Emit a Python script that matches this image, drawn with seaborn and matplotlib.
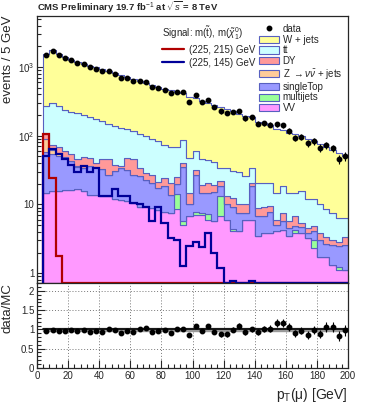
import numpy as np
import pandas as pd
import matplotlib
matplotlib.use("Agg")
import matplotlib.pyplot as plt
import seaborn as sns
from matplotlib.patches import Patch
from matplotlib.lines import Line2D
from matplotlib.ticker import LogLocator, MultipleLocator, NullFormatter, FuncFormatter

# ------------------------------
# binning: 4 GeV bins from 4 to 200 GeV
# ------------------------------
bin_edges = np.arange(4, 201, 4)
centers = 0.5 * (bin_edges[:-1] + bin_edges[1:])

# ------------------------------
# values (events per bin)
# ------------------------------
data_counts = [1487, 1715, 1482, 1356, 1249, 1135, 1086, 983, 937, 866,
               865, 792, 682, 692, 630, 620, 602, 510, 491, 465,
               415, 429, 427, 310, 386, 306, 326, 264, 225, 212,
               222, 229, 178, 184, 150, 152, 145, 148, 142, 118,
               94, 96, 77, 83, 67, 73, 66, 46, 50]

w_jets = [1270, 1450, 1280, 1170, 1050, 975, 915, 860, 810, 765,
          715, 675, 630, 590, 560, 515, 480, 455, 430, 405,
          385, 360, 335, 315, 295, 275, 255, 240, 225, 210,
          195, 180, 167, 150, 140, 130, 122, 112, 103, 96,
          90, 84, 78, 72, 66, 60, 55, 49, 45]

ttbar = [164, 221, 201, 175, 168, 165, 150, 138, 137, 121,
         104, 101, 94, 78, 71, 71, 70, 61, 62, 48,
         49, 44, 48, 33, 28, 26, 24, 22, 12, 21,
         18, 19, 16, 13.5, 11.5, 11.2, 11.1, 8.5, 10.9, 8.8,
         7.7, 10.2, 7.4, 7.2, 6.2, 5.1, 4.5, 3.4, 2.9]

dy = [14, 12.4, 12.4, 10.2, 10.2, 10.2, 15.1, 12.0, 4.8, 12.8,
      18.0, 7.0, 2.8, 16.3, 19.0, 8.2, 5.9, 6.8, 3.5, 5.9,
      6.6, 5.1, 4.3, 4.8, 4.4, 4.7, 5.6, 4.4, 3.5, 3.2,
      3.1, 2.7, 2.5, 2.0, 2.1, 2.4, 1.5, 0.9, 1.8, 1.1,
      2.0, 0.65, 0.7, 0.8, 0.85, 0.7, 0.5, 0.4, 0.8]

z_nunu = [33.5, 6.7, 6.0, 1.5, 0.8, 0.5, 0, 0, 0, 0,
          0, 0, 0, 0, 0, 0, 0, 0, 0, 0,
          0, 0, 0, 0, 0, 0, 0, 0, 0, 0,
          0, 0, 0, 0, 0, 0, 0, 0, 0, 0,
          0, 0, 0, 0, 0, 0, 0, 0, 0]

single_top = [42.5, 39.5, 34.5, 31.9, 26.3, 18.7, 18.4, 22.4, 22.0, 19.2,
              14.0, 18.2, 22.3, 20.5, 16.7, 16.4, 13.3, 11.4, 9.0, 10.5,
              6.3, 5.9, 29.7, 3.2, 19.5, 7.2, 7.5, 9.4, 5.2, 4.0,
              4.9, 3.4, 1.5, 12.4, 3.3, 2.9, 4.0, 1.0, 1.4, 1.1,
              0.6, 0.75, 0.7, 1.0, 1.3, 1.0, 1.25, 1.25, 1.5]

multijets = [0, 0, 0, 0, 0, 0, 0, 0, 0, 0,
             0, 0, 0, 0, 0, 0, 0.3, 0, 0, 0,
             0, 5.6, 0.65, 0, 0.6, 0.5, 1.3, 0, 6.4, 0,
             0.3, 0, 0, 0, 0, 0, 0, 0, 0, 0,
             0.4, 0, 0, 0.75, 0, 0, 0, 0.14, 0]

vv = [14.8, 15.5, 15.5, 16.0, 16.4, 16.8, 15.5, 13.5, 13.5, 13.2,
      13.2, 12.0, 11.6, 11.1, 10.5, 9.3, 9.3, 9.0, 8.4, 7.9,
      7.5, 8.5, 5.1, 6.8, 7.1, 7.1, 6.0, 5.7, 6.8, 6.0,
      4.1, 4.1, 6.0, 6.0, 3.5, 3.9, 3.9, 4.1, 4.3, 3.5,
      3.8, 3.9, 3.2, 2.3, 1.7, 1.7, 1.3, 1.1, 1.1]

sig_225_215 = [107, 24.5, 1.8, 0, 0, 0, 0, 0, 0, 0,
               0, 0, 0, 0, 0, 0, 0, 0, 0, 0,
               0, 0, 0, 0, 0, 0, 0, 0, 0, 0,
               0, 0, 0, 0, 0, 0, 0, 0, 0, 0,
               0, 0, 0, 0, 0, 0, 0, 0, 0]

sig_225_145 = [50, 63, 54, 46, 37, 29.5, 36, 29.5, 34, 13.2,
               13.2, 16.6, 13.2, 13.2, 10.5, 10, 9.3, 5.7, 9.3, 5.4,
               3.2, 3.05, 1.26, 2.5, 2.8, 2.4, 3.8, 2.0, 1.2, 0,
               0.78, 0, 0, 0.78, 0, 0, 0, 0, 0, 0,
               0, 0, 0, 0, 0, 0, 0, 0, 0]

# stack order: first entry on top, last entry at the bottom
stack_names = ["W + jets", "tt", "DY", r"Z $\rightarrow \nu\bar{\nu}$ + jets",
               "singleTop", "multijets", "VV"]
stack_values = [w_jets, ttbar, dy, z_nunu, single_top, multijets, vv]
stack_colors = ["#ffff99", "#ccffff", "#ff9999", "#ffcc99",
                "#9999ff", "#99ff99", "#ff99ff"]
edge_col = "#5860c0"

df = pd.concat(
    [pd.DataFrame({"pt": centers, "events": vals, "process": name})
     for name, vals in zip(stack_names, stack_values)],
    ignore_index=True)

mc_total = np.sum(np.array(stack_values, dtype=float), axis=0)
data_arr = np.array(data_counts, dtype=float)
ratio = data_arr / mc_total
ratio_err = np.sqrt(data_arr) / mc_total

# ------------------------------
# style
# ------------------------------
sns.set_style("ticks")
plt.rcParams["font.family"] = ["Liberation Sans", "DejaVu Sans"]
plt.rcParams["mathtext.fontset"] = "custom"
plt.rcParams["mathtext.rm"] = "Liberation Sans"
plt.rcParams["mathtext.it"] = "Liberation Sans:italic"

fig = plt.figure(figsize=(3.66, 4.05), dpi=100)
ax1 = fig.add_axes([0.101, 0.3005, 0.85, 0.66])
ax2 = fig.add_axes([0.101, 0.092, 0.85, 0.2085])

# ------------------------------
# top panel: stacked backgrounds
# ------------------------------
sns.histplot(data=df, x="pt", weights="events", hue="process",
             hue_order=stack_names, palette=dict(zip(stack_names, stack_colors)),
             multiple="stack", bins=bin_edges.tolist(), element="step", alpha=1,
             edgecolor=edge_col, linewidth=0.8, legend=False, ax=ax1)

ymin, ymax = 0.714, 5500
ax1.set_yscale("log")

ax1.stairs(np.maximum(sig_225_215, ymin), bin_edges, baseline=ymin,
           color="#b00000", linewidth=1.6, zorder=4)
ax1.stairs(np.maximum(sig_225_145, ymin), bin_edges, baseline=ymin,
           color="#000099", linewidth=1.6, zorder=4)

ax1.errorbar(centers, data_arr, yerr=np.sqrt(data_arr), fmt="o", ms=3.2,
             color="black", elinewidth=0.8, capsize=0, zorder=5)

ax1.set_xlim(0, 200)
ax1.set_ylim(ymin, ymax)
ax1.set_xlabel("")
ax1.set_ylabel("events / 5 GeV", fontsize=9.5, loc="top")
ax1.yaxis.set_label_coords(-0.074, 1.0)

def decade_label(v, pos):
    if abs(v - 1) < 1e-6:
        return "1"
    if abs(v - 10) < 1e-6:
        return "10"
    return r"$10^{%d}$" % int(round(np.log10(v)))

ax1.yaxis.set_major_locator(LogLocator(base=10, numticks=10))
ax1.yaxis.set_major_formatter(FuncFormatter(decade_label))
ax1.yaxis.set_minor_locator(LogLocator(base=10, subs=np.arange(2, 10), numticks=20))
ax1.yaxis.set_minor_formatter(NullFormatter())
ax1.xaxis.set_major_locator(MultipleLocator(20))
ax1.xaxis.set_minor_locator(MultipleLocator(4))
ax1.tick_params(which="both", direction="in", top=False, right=False,
                labelbottom=False, labelsize=7, width=0.8, pad=2)
ax1.tick_params(which="major", length=6)
ax1.tick_params(which="minor", length=3)
for sp in ax1.spines.values():
    sp.set_linewidth(0.9)

# legends
sig_handles = [Line2D([], [], color="#b00000", lw=1.6),
               Line2D([], [], color="#000099", lw=1.6)]
leg1 = ax1.legend(sig_handles, ["(225, 215) GeV", "(225, 145) GeV"],
                  title=r"Signal: m($\tilde{\mathrm{t}}$), m($\tilde{\chi}^{0}_{1}$)",
                  loc="upper left", bbox_to_anchor=(0.425, 0.958),
                  bbox_transform=fig.transFigure, frameon=False, fontsize=7,
                  title_fontsize=7, handlelength=2.2, labelspacing=0.3,
                  borderpad=0.2, handletextpad=0.5)
leg1._legend_box.align = "left"
ax1.add_artist(leg1)

bkg_handles = [Line2D([], [], marker="o", color="black", linestyle="none", ms=3.2)]
bkg_handles += [Patch(facecolor=c, edgecolor=edge_col, linewidth=0.8) for c in stack_colors]
ax1.legend(bkg_handles, ["data"] + stack_names, loc="upper left",
           bbox_to_anchor=(0.69, 0.958), bbox_transform=fig.transFigure,
           frameon=False, fontsize=7, handlelength=2.0, handleheight=0.75,
           labelspacing=0.08, borderpad=0.2, handletextpad=0.4)

fig.text(0.101, 0.963, r"CMS Preliminary 19.7 fb$^{-1}$ at $\sqrt{s}$ = 8 TeV",
         fontsize=6.8, fontweight="bold", ha="left", va="bottom")

# ------------------------------
# bottom panel: data / MC
# ------------------------------
ax2.fill_between([4, 200], [0.97, 0.97], [1.03, 1.03], color="#9a9a9a", zorder=1)
ax2.axhline(1.0, xmin=0.02, color="black", linewidth=1.2, zorder=2)
ax2.errorbar(centers, ratio, yerr=ratio_err, fmt="o", ms=3.2, color="black",
             elinewidth=0.8, capsize=0, zorder=5)

ax2.set_xlim(0, 200)
ax2.set_ylim(0, 2.2)
ax2.xaxis.set_major_locator(MultipleLocator(20))
ax2.xaxis.set_minor_locator(MultipleLocator(4))
ax2.yaxis.set_major_locator(MultipleLocator(0.5))
ax2.yaxis.set_minor_locator(MultipleLocator(0.1))
ax2.yaxis.set_major_formatter(FuncFormatter(lambda v, p: "%g" % v))
ax2.grid(True, which="major", linestyle=(0, (1, 2)), color="#777777", linewidth=0.7)
ax2.tick_params(which="both", direction="in", top=False, right=False,
                labelsize=7, width=0.8, pad=2)
ax2.tick_params(which="major", length=6)
ax2.tick_params(which="minor", length=3)
for sp in ax2.spines.values():
    sp.set_linewidth(0.9)

ax2.set_ylabel("data/MC", fontsize=9.5, loc="top")
ax2.yaxis.set_label_coords(-0.074, 1.0)
ax2.set_xlabel(r"p$_{\mathrm{T}}$(μ) [GeV]", fontsize=10, loc="right")

fig.savefig("out.png", dpi=100)
